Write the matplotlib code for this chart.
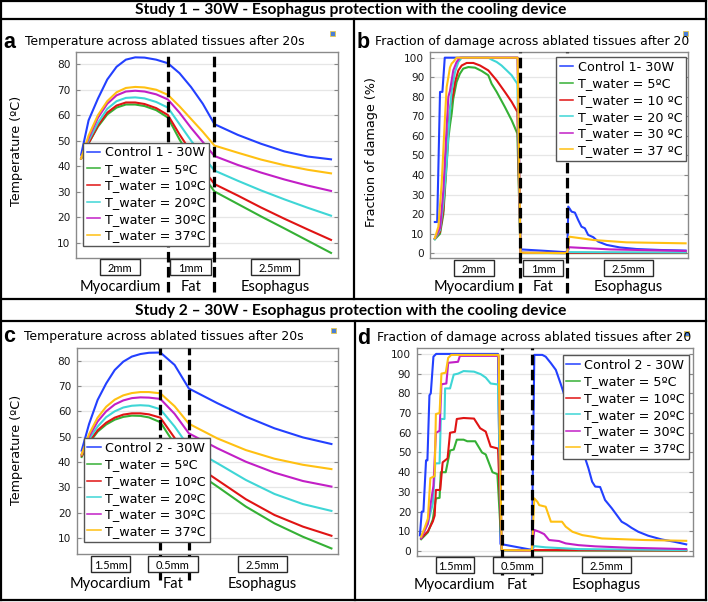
import matplotlib
matplotlib.use("Agg")
import matplotlib.pyplot as plt
import matplotlib.transforms as mtransforms
from matplotlib.lines import Line2D
from matplotlib.patches import Rectangle

# ---------------- data ----------------
# Study 1 temperature (panel a), x in mm
x_temp1 = [0.14, 0.3, 0.5, 0.7, 0.9, 1.1, 1.3, 1.5, 1.75, 2.0, 2.25, 2.5, 2.75, 3.0, 3.5, 4.0, 4.5, 5.0, 5.5]
temp1_control = [44.5, 58, 66.5, 74, 79, 81.8, 82.7, 82.6, 81.8, 80.4, 76.5, 71, 64.5, 56.5, 52.3, 48.8, 45.8, 43.8, 42.7]
temp1_05 = [43, 49, 55.5, 60.3, 63, 64.2, 64.2, 63.6, 62, 59.1, 50.5, 43, 36.3, 30.1, 25.2, 20.3, 15.6, 10.8, 6]
temp1_10 = [43, 49, 56, 61, 63.8, 65, 65, 64.4, 62.8, 60.1, 52.5, 45.5, 39, 33, 28.5, 23.8, 19.4, 15.2, 11.1]
temp1_20 = [43, 50, 57, 62.5, 65.5, 66.8, 67, 66.6, 65.2, 63, 56.5, 50, 44, 38.3, 34.3, 30.5, 27, 23.7, 20.6]
temp1_30 = [43, 51, 59, 64.5, 67.8, 69.3, 69.6, 69.3, 68.2, 66.2, 61, 55, 49.5, 44, 40.5, 37.5, 34.8, 32.4, 30.3]
temp1_37 = [43, 52, 60, 65.5, 69, 70.7, 71.1, 70.9, 70, 68, 63.5, 58.5, 53.5, 48.1, 45.3, 42.6, 40.4, 38.6, 37.2]

# Study 2 temperature (panel c)
x_temp2 = [0.12, 0.25, 0.4, 0.55, 0.7, 0.85, 1.0, 1.15, 1.3, 1.5, 1.75, 2.0, 2.5, 3.0, 3.5, 4.0, 4.5]
temp2_control = [44.5, 55, 64.5, 71, 76.3, 79.6, 81.6, 82.6, 83.1, 83.2, 78.3, 69, 63.2, 57.9, 53.3, 49.7, 47.1]
temp2_05 = [42, 47.5, 52, 54.8, 56.7, 57.8, 58.3, 58.2, 57.6, 55.7, 47, 38, 30.3, 22.4, 15.8, 10.5, 5.9]
temp2_10 = [42.5, 48, 52.5, 55.5, 57.5, 58.7, 59.2, 59.2, 58.8, 57.5, 49.5, 40.5, 32.9, 25.3, 19.1, 14.5, 10.9]
temp2_20 = [43, 49, 54, 57.7, 60, 61.5, 62.2, 62.4, 62.2, 60.8, 54, 46, 39.5, 32.9, 27.4, 23.4, 20.7]
temp2_30 = [43, 50, 56, 60, 62.7, 64.3, 65.2, 65.5, 65.4, 64.9, 59, 51.3, 45.4, 40.1, 35.8, 32.5, 30.3]
temp2_37 = [43, 51, 57.5, 61.8, 64.6, 66.3, 67.2, 67.6, 67.6, 67.1, 62, 55.1, 49.3, 44.7, 41.3, 38.9, 37.2]

# Study 1 damage (panel b)
dmg1_control_x = [0.2, 0.25, 0.31, 0.36, 0.41, 1.95, 2.01, 2.5, 2.95, 3.0, 3.02, 3.09, 3.16, 3.23, 3.30, 3.37, 3.44, 3.55, 3.65, 3.83, 4.11, 4.46, 4.96, 5.5]
dmg1_control = [16, 16, 82.5, 82.5, 100, 100, 2, 1.3, 0.6, 1, 23.9, 21.3, 20.8, 17, 13.6, 12.8, 9.4, 8.2, 6, 4.3, 3, 2.2, 1.7, 1.4]
dmg1_05_x = [0.2, 0.31, 0.38, 0.486, 0.52, 0.556, 0.59, 0.66, 0.73, 0.80, 0.908, 1.05, 1.19, 1.33, 1.40, 1.507, 1.68, 1.824, 1.944, 2.01, 5.5]
dmg1_05 = [7.2, 10, 20, 58.7, 65.5, 71.4, 79, 87.6, 91.8, 94.4, 95.2, 94.9, 93.2, 91, 86.7, 82.5, 74.8, 68, 61.2, 0.1, 0.1]
dmg1_10_x = [0.2, 0.31, 0.38, 0.486, 0.52, 0.556, 0.59, 0.627, 0.697, 0.768, 0.873, 1.014, 1.155, 1.33, 1.507, 1.68, 1.824, 1.944, 2.01, 5.5]
dmg1_10 = [7.5, 11, 22, 63, 74, 78.2, 81.6, 87.6, 93.5, 96, 97.3, 97.3, 96, 93.5, 88.4, 82.5, 77.4, 72.3, 0.2, 0.2]
dmg1_20_x = [0.2, 0.31, 0.38, 0.45, 0.486, 0.52, 0.556, 0.627, 0.697, 0.768, 1.33, 1.40, 1.507, 1.61, 1.718, 1.824, 1.894, 1.944, 2.01, 2.95, 3.0, 3.04, 5.5]
dmg1_20 = [7.2, 12, 25.5, 46, 61, 73, 83, 92.7, 97.8, 100, 100, 99, 97.8, 96, 93.5, 91, 88.4, 86.7, 0.3, 0.1, 0.3, 0.6, 0.4]
dmg1_30_x = [0.2, 0.31, 0.38, 0.45, 0.486, 0.52, 0.556, 0.59, 0.66, 0.73, 1.95, 2.01, 2.95, 3.0, 3.04, 3.9, 5.5]
dmg1_30 = [7.7, 13, 32, 64.6, 80, 83, 88.4, 93.5, 97.8, 100, 100, 0.3, 0.1, 0.3, 3.1, 2, 1.2]
dmg1_37_x = [0.2, 0.275, 0.345, 0.415, 0.45, 0.486, 0.52, 0.556, 0.59, 0.66, 1.95, 2.01, 2.95, 3.0, 3.04, 3.55, 4.25, 5.5]
dmg1_37 = [7.7, 13.6, 35.7, 69.7, 85, 90, 95, 97, 97.8, 100, 100, 0.3, 0.1, 0.5, 8.5, 6.8, 5.6, 5.1]

# Study 2 damage (panel d)
dmg2_control_x = [0.17, 0.2, 0.227, 0.27, 0.292, 0.325, 0.347, 0.39, 0.434, 1.44, 1.48, 1.95, 1.99, 2.03, 2.16, 2.215, 2.3, 2.38, 2.457, 2.7, 2.91, 2.97, 3.02, 3.10, 3.18, 3.29, 3.37, 3.45, 3.53, 3.61, 3.72, 3.88, 4.1, 4.31, 4.5]
dmg2_control = [8, 20, 20, 46, 46, 79, 80, 98.6, 100, 100, 3.6, 0.85, 0.8, 99.5, 99.5, 98.6, 95.3, 91.9, 85, 62, 42, 35.2, 32.7, 32.5, 25.9, 21.7, 18.3, 14.9, 13.5, 11.8, 9.8, 7.8, 5.9, 4.7, 3.4]
dmg2_05_x = [0.19, 0.3, 0.38, 0.43, 0.49, 0.51, 0.59, 0.66, 0.72, 0.77, 0.88, 0.94, 1.07, 1.18, 1.24, 1.35, 1.43, 1.5, 4.5]
dmg2_05 = [6, 9.5, 16, 26.7, 27, 40, 40, 51, 51.5, 56.5, 56.5, 55.7, 55.7, 50, 49, 40, 39, 0.3, 0.2]
dmg2_10_x = [0.19, 0.3, 0.38, 0.41, 0.43, 0.5, 0.54, 0.62, 0.66, 0.74, 0.77, 0.88, 1.05, 1.15, 1.24, 1.32, 1.44, 1.5, 1.99, 2.03, 4.5]
dmg2_10 = [6.5, 10, 15, 18, 31, 31, 45, 47, 60, 60.5, 67, 67.5, 67.2, 62.3, 60.6, 53, 52, 0.5, 0.2, 0.5, 0.3]
dmg2_20_x = [0.19, 0.3, 0.38, 0.42, 0.49, 0.51, 0.57, 0.58, 0.66, 0.72, 0.79, 0.88, 1.05, 1.16, 1.24, 1.32, 1.44, 1.5, 1.99, 2.03, 2.215, 2.75, 4.5]
dmg2_20 = [7, 14, 24, 44.5, 44.5, 67, 67, 82.5, 82.5, 89.5, 90, 91.3, 91, 89.7, 88, 85, 84.5, 0.3, 0.3, 2.5, 1.9, 1.0, 0.5]
dmg2_30_x = [0.19, 0.3, 0.35, 0.39, 0.43, 0.49, 0.52, 0.6, 0.63, 0.79, 0.82, 1.45, 1.5, 1.99, 2.03, 2.11, 2.19, 2.27, 2.43, 2.54, 2.75, 3.02, 3.56, 4.5]
dmg2_30 = [6.5, 14, 25, 33, 60, 61, 84.6, 85, 95.5, 96, 99, 99, 0.5, 0.2, 10.7, 9.8, 8.6, 5.6, 5.1, 3.9, 3.0, 2.4, 1.7, 1.0]
dmg2_37_x = [0.19, 0.25, 0.3, 0.34, 0.41, 0.43, 0.49, 0.52, 0.59, 0.63, 0.68, 1.45, 1.5, 1.99, 2.03, 2.08, 2.11, 2.215, 2.3, 2.48, 2.54, 2.65, 2.81, 2.97, 3.13, 3.56, 3.83, 4.5]
dmg2_37 = [7.3, 12, 16.5, 37, 38, 69.5, 70, 90, 90.5, 98, 99.5, 99.5, 0.5, 0.3, 26.7, 25, 23.3, 22.5, 14.9, 14.9, 12.4, 9.8, 8.1, 7.3, 6.4, 5.9, 5.6, 5.2]

labels_a = ["Control 1 - 30W", "T_water = 5ºC", "T_water = 10ºC", "T_water = 20ºC", "T_water = 30ºC", "T_water = 37ºC"]
labels_b = ["Control 1- 30W", "T_water = 5ºC", "T_water = 10 ºC", "T_water = 20 ºC", "T_water = 30 ºC", "T_water = 37 ºC"]
labels_c = ["Control 2 - 30W", "T_water = 5ºC", "T_water = 10ºC", "T_water = 20ºC", "T_water = 30ºC", "T_water = 37ºC"]
labels_d = labels_c

# tissue layers: boundaries (mm), box text, tissue name
bounds_1 = [2.0, 3.0]
bounds_2 = [1.5, 2.0]
boxes_1 = ["2mm", "1mm", "2.5mm"]
boxes_2 = ["1.5mm", "0.5mm", "2.5mm"]
tissues = ["Myocardium", "Fat", "Esophagus"]

colors = ["#2340ff", "#35b035", "#e01414", "#3fd6d6", "#c21fc6", "#ffc012"]

# ---------------- figure ----------------
W, H = 708, 602
fig = plt.figure(figsize=(W / 100, H / 100), dpi=100)
plt.rcParams["font.family"] = ["DejaVu Sans"]


def fx(px):
    return px / W


def fy(py):
    return 1 - py / H


def make_axes(l, t, r, b):
    return fig.add_axes([fx(l), fy(b), (r - l) / W, (b - t) / H])


def style_axes(ax, xlim, ylim, yticks):
    ax.set_xlim(xlim)
    ax.set_ylim(ylim)
    ax.set_yticks(yticks)
    ax.set_xticks([])
    ax.tick_params(axis="y", labelsize=7.6, length=3, width=0.8, color="#888888",
                   right=True, direction="in", pad=4, labelcolor="#1a1a1a")
    for s in ax.spines.values():
        s.set_color("#8a8a8a")
        s.set_linewidth(1.0)
    ax.grid(axis="y", color="#e6e6e6", lw=0.9)
    ax.set_axisbelow(True)


def decorate(ax, ax_px, bounds, box_x, box_w, box_txt, dash_bottom, box_y, label_y):
    # ax_px = (left, top, right, bottom) in pixels
    l, t, r, b = ax_px
    x0, x1 = ax.get_xlim()
    trans = mtransforms.blended_transform_factory(ax.transData, ax.transAxes)
    hgt = b - t
    for xb in bounds:
        ax.axvline(xb, ymin=-(dash_bottom - b) / hgt, ymax=1, clip_on=False, color="black",
                   lw=2.3, ls=(0, (3.3, 1.4)), zorder=3)
    for xc, w, txt, name in zip(box_x, box_w, box_txt, tissues):
        wd = w * (x1 - x0) / (r - l)
        yc = -(box_y - b) / hgt
        hh = 16 / hgt
        ax.add_patch(Rectangle((xc - wd / 2, yc - hh / 2), wd, hh, transform=trans, clip_on=False,
                               fc="white", ec="#2a2a2a", lw=1.0, zorder=6))
        ax.text(xc, yc - 0.008, txt, transform=trans, ha="center", va="center", fontsize=8,
                family="Lato", zorder=7)
        ax.text(xc, -(label_y - b) / hgt, name, transform=trans, ha="center", va="center",
                fontsize=10.5, family="Lato", zorder=7)


def add_legend(ax, labels, x, y):
    leg = ax.legend(labels, loc="upper left", bbox_to_anchor=(fx(x), fy(y)),
                    bbox_transform=fig.transFigure, borderaxespad=0, fontsize=9.2,
                    frameon=True, fancybox=False, framealpha=1, edgecolor="#555555",
                    handlelength=1.05, handletextpad=0.35, labelspacing=0.28,
                    borderpad=0.3)
    leg.get_frame().set_linewidth(1.0)
    leg.set_zorder(8)
    for h in leg.get_lines():
        h.set_linewidth(1.1)
    return leg


# panel a
ax_a_px = (76, 52, 338, 258)
ax_a = make_axes(*ax_a_px)
for ys, c in zip([temp1_control, temp1_05, temp1_10, temp1_20, temp1_30, temp1_37], colors):
    ax_a.plot(x_temp1, ys, color=c, lw=1.5)
style_axes(ax_a, (0.03, 5.65), (4, 84.8), range(10, 90, 10))
decorate(ax_a, ax_a_px, bounds_1, [0.97, 2.49, 4.3], [40, 41, 48], boxes_1, 292, 267, 287)
add_legend(ax_a, labels_a, 83, 142.5)

# panel b
ax_b_px = (430, 52, 688, 258)
ax_b = make_axes(*ax_b_px)
for xs, ys, c in zip([dmg1_control_x, dmg1_05_x, dmg1_10_x, dmg1_20_x, dmg1_30_x, dmg1_37_x],
                     [dmg1_control, dmg1_05, dmg1_10, dmg1_20, dmg1_30, dmg1_37], colors):
    ax_b.plot(xs, ys, color=c, lw=1.5)
style_axes(ax_b, (0.098, 5.55), (-2.4, 102.9), range(0, 110, 10))
decorate(ax_b, ax_b_px, bounds_1, [1.03, 2.49, 4.29], [40, 40, 49], boxes_1, 293, 267.5, 287)
add_legend(ax_b, labels_b, 556, 57)

# panel c
ax_c_px = (76.7, 347.7, 337.7, 554)
ax_c = make_axes(*ax_c_px)
for ys, c in zip([temp2_control, temp2_05, temp2_10, temp2_20, temp2_30, temp2_37], colors):
    ax_c.plot(x_temp2, ys, color=c, lw=1.5)
style_axes(ax_c, (0.033, 4.61), (3.7, 85.1), range(10, 90, 10))
decorate(ax_c, ax_c_px, bounds_2, [0.626, 1.72, 3.29], [39, 50, 49], boxes_2, 580, 564, 584)
add_legend(ax_c, labels_c, 83.5, 438)

# panel d
ax_d_px = (416.7, 348, 693, 556)
ax_d = make_axes(*ax_d_px)
for xs, ys, c in zip([dmg2_control_x, dmg2_05_x, dmg2_10_x, dmg2_20_x, dmg2_30_x, dmg2_37_x],
                     [dmg2_control, dmg2_05, dmg2_10, dmg2_20, dmg2_30, dmg2_37], colors):
    ax_d.plot(xs, ys, color=c, lw=1.5)
style_axes(ax_d, (0.118, 4.61), (-2.5, 103), range(0, 110, 10))
decorate(ax_d, ax_d_px, bounds_2, [0.737, 1.754, 3.2], [38, 49, 49], boxes_2, 575, 565, 585)
add_legend(ax_d, labels_d, 562.5, 355)

# titles, panel letters, y labels
titles = [("a", "Temperature across ablated tissues after 20s", 3, 25, 42),
          ("b", "Fraction of damage across ablated tissues after 20", 357, 375, 42),
          ("c", "Temperature across ablated tissues after 20s", 3, 24, 337),
          ("d", "Fraction of damage across ablated tissues after 20", 357, 377, 338)]
for letter, txt, xl, xt, yt in titles:
    fig.text(fx(xl), fy(yt), letter, fontsize=15.5, fontweight="bold", family="Liberation Sans",
             ha="left", va="center")
    fig.text(fx(xt), fy(yt), txt, fontsize=8.9, ha="left", va="center")

fig.text(fx(17), fy(151), "Temperature (ºC)", rotation=90, fontsize=9.2, ha="center", va="center")
fig.text(fx(371), fy(152), "Fraction of damage (%)", rotation=90, fontsize=9.2, ha="center", va="center")
fig.text(fx(17), fy(450), "Temperature (ºC)", rotation=90, fontsize=9.2, ha="center", va="center")

# small toolbar icons in the corners of the plots
for ix, iy in [(332, 33), (685, 33), (333, 330), (686, 333)]:
    fig.add_artist(Rectangle((fx(ix - 2.5), fy(iy + 2.5)), 5 / W, 5 / H, transform=fig.transFigure,
                             fc="#4a7fd6", ec="#e8c84a", lw=0.6))

# study headers
fig.text(fx(351), fy(10), "Study 1 – 30W - Esophagus protection with the cooling device",
         fontsize=11.2, fontweight="bold", family="Lato", ha="center", va="center")
fig.text(fx(351), fy(311), "Study 2 – 30W - Esophagus protection with the cooling device",
         fontsize=11.2, fontweight="bold", family="Lato", ha="center", va="center")

# frame lines
frame = [((1, 1), (706, 1)), ((1, 600), (706, 600)), ((1, 1), (1, 600)), ((706, 1), (706, 600)),
         ((1, 18.5), (706, 18.5)), ((1, 298.5), (706, 298.5)), ((1, 321), (706, 321)),
         ((353.5, 18.5), (353.5, 298.5)), ((355, 321), (355, 600))]
for (xa, ya), (xb, yb) in frame:
    fig.add_artist(Line2D([fx(xa), fx(xb)], [fy(ya), fy(yb)], color="black", lw=1.6,
                          transform=fig.transFigure))

fig.savefig("out.png", dpi=100)
